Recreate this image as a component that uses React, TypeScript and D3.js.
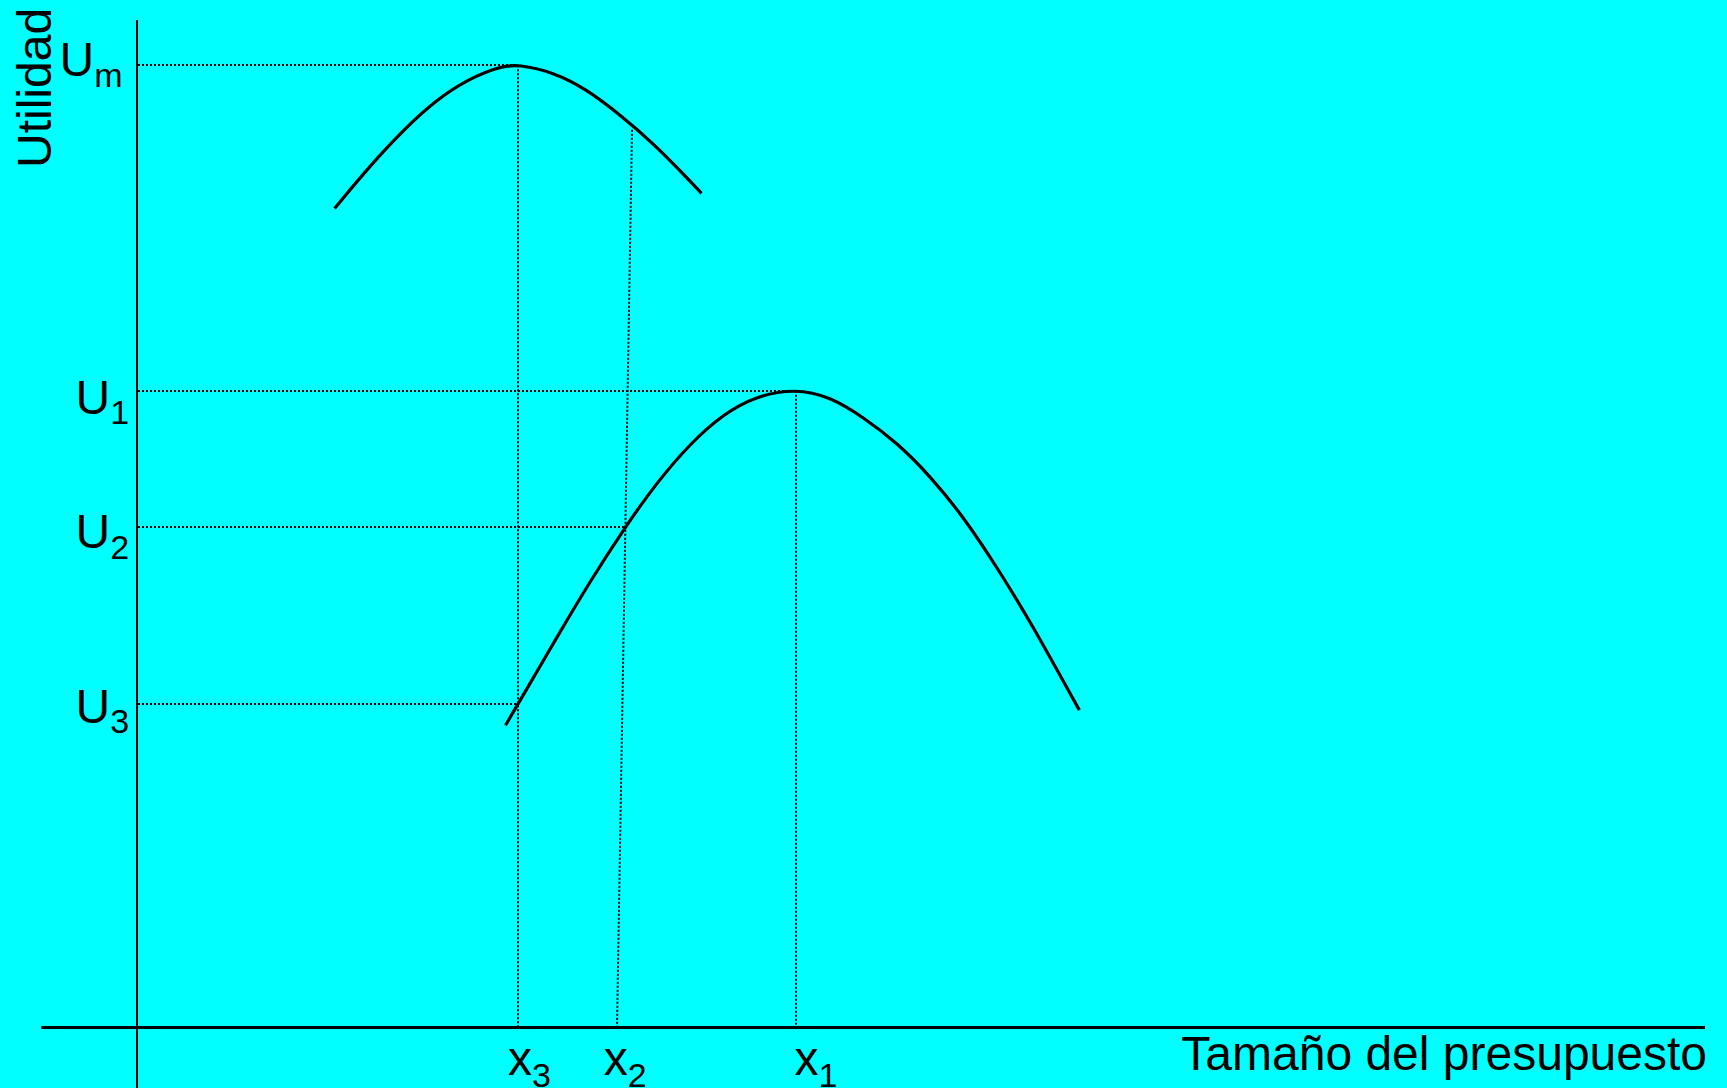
import React from 'react';
import * as d3 from 'd3';

const width = 1727;
const height = 1088;

// budget size (x) vs utility (y), both in arbitrary units
const upperX = [12.6, 14.9, 17.0, 19.1, 21.2, 23.2, 24.3, 26.6, 28.7, 30.8, 32.9, 35.1, 36.0];
const upperY = [81.3, 85.6, 89.1, 92.1, 94.2, 95.4, 95.6, 94.8, 93.1, 90.6, 87.8, 84.3, 82.8];

const lowerX = [23.5, 24.3, 26.8, 28.9, 31.1, 33.1, 35.3, 37.4, 39.5, 42.0, 44.2, 46.3, 48.5, 50.6, 52.7, 54.8, 57.0, 59.1, 60.1];
const lowerY = [30.0, 32.1, 38.8, 44.3, 49.6, 54.0, 58.0, 60.9, 62.7, 63.4, 62.6, 60.6, 58.0, 54.7, 50.7, 45.8, 40.2, 34.3, 31.5];

// utility levels on the vertical axis and where their guides end
const uSubs = ['m', '1', '2', '3'];
const uValues = [95.5, 63.2, 49.7, 32.1];
const uReach = [24.3, 42.0, 31.1, 24.3];

// budget levels on the horizontal axis, guide top (x2 guide leans a bit)
const xSubs = ['3', '2', '1'];
const xValues = [24.3, 30.6, 42.0];
const xTopValues = [24.3, 31.6, 42.0];
const xTopY = [95.5, 89.1, 63.2];

const xTitle = 'Tamaño del presupuesto';
const yTitle = 'Utilidad';

const font = '"Liberation Sans", Arial, sans-serif';

export default function App() {
    const xScale = d3.scaleLinear().domain([0, 100]).range([137, 1705]);
    const yScale = d3.scaleLinear().domain([0, 100]).range([1027.5, 20]);

    const line = d3.line<[number, number]>()
        .x(d => xScale(d[0]))
        .y(d => yScale(d[1]))
        .curve(d3.curveBasis);

    const upper = upperX.map((x, i) => [x, upperY[i]] as [number, number]);
    const lower = lowerX.map((x, i) => [x, lowerY[i]] as [number, number]);

    // label placement tweaks (pixels)
    const uLabelX = [59.5, 75.5, 75.5, 75.5];
    const uLabelDy = [11, 23, 21.5, 18.5];
    const uSubDy = [11, 10, 11, 10];
    const xLabelDx = [-10, -13, -1];

    const dotted = { stroke: '#000', strokeWidth: 2, strokeDasharray: '2,2', fill: 'none' };

    return (
        <div style={{ position: 'fixed', left: 0, top: 0, width, height, background: '#00ffff' }}>
            <svg width={width} height={height} style={{ display: 'block' }} fontFamily={font}>
                {/* guides */}
                {uValues.map((u, i) => (
                    <line key={'hu' + i} x1={xScale(0) + 1} x2={xScale(uReach[i])}
                        y1={Math.round(yScale(u))} y2={Math.round(yScale(u))} {...dotted} />
                ))}
                {xValues.map((x, i) => (
                    <line key={'vx' + i} x1={Math.round(xScale(xTopValues[i]))} x2={Math.round(xScale(x))}
                        y1={yScale(xTopY[i])} y2={yScale(0)} {...dotted} />
                ))}

                {/* axes */}
                <line x1={xScale(0)} x2={xScale(0)} y1={yScale(100)} y2={height} stroke="#000" strokeWidth={2} />
                <line x1={xScale(-6.1)} x2={xScale(100)} y1={yScale(0)} y2={yScale(0)} stroke="#000" strokeWidth={3} />

                {/* utility curves */}
                <path d={line(upper) || ''} fill="none" stroke="#000" strokeWidth={3.2} />
                <path d={line(lower) || ''} fill="none" stroke="#000" strokeWidth={3.2} />

                {/* U labels */}
                {uValues.map((u, i) => (
                    <text key={'lu' + i} x={uLabelX[i]} y={yScale(u) + uLabelDy[i]} fontSize={48} fill="#000">
                        U<tspan fontSize={34} dy={uSubDy[i]}>{uSubs[i]}</tspan>
                    </text>
                ))}

                {/* x labels */}
                {xValues.map((x, i) => (
                    <text key={'lx' + i} x={xScale(x) + xLabelDx[i]} y={1075} fontSize={48} fill="#000">
                        x<tspan fontSize={34} dy={12}>{xSubs[i]}</tspan>
                    </text>
                ))}

                {/* axis titles */}
                <text x={1707} y={1070} textAnchor="end" fontSize={48} fill="#000">{xTitle}</text>
                <text transform="translate(50.5,168) rotate(-90)" fontSize={48} fill="#000">{yTitle}</text>
            </svg>
        </div>
    );
}
